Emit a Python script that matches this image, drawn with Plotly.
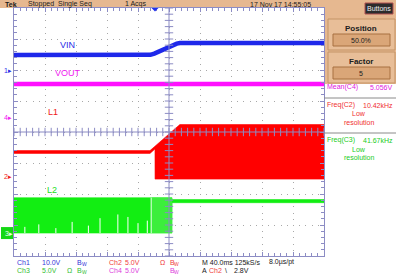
import numpy as np
import plotly.graph_objects as go

# ---------------- values ----------------
# time axis: 40 ms/div, 10 divisions, trigger at centre
time_per_div = 40.0
# channel settings: V/div and ground-marker position (divisions from centre)
ch_scale = {"1": 10.0, "2": 5.0, "3": 5.0, "4": 5.0}
ch_pos = {"1": 2.0, "2": -1.45, "3": -3.26, "4": 0.48}

# VIN (Ch1)
vin_t = [-200, -28, -24, -19, -14, -8, -2, 4, 10, 14, 200]
vin_v = [4.8, 4.8, 4.9, 5.3, 5.9, 6.6, 7.3, 8.0, 8.5, 8.7, 8.7]

# VOUT (Ch4)
vout_t = [-200, 200]
vout_v = [5.35, 5.35]

# L1 switching node (Ch2) envelope
l1_t = [-200, -24.5, -18.1, -18.0, 14.0, 200]
l1_hi = [4.25, 4.25, 4.95, 4.95, 8.45, 8.45]
l1_lo = [3.80, 3.80, 4.50, -0.35, -0.35, -0.35]

# L2 (Ch3) envelope
l2_t = [-200, 3.9, 4.0, 200]
l2_hi = [5.7, 5.7, 5.4, 5.4]
l2_lo = [0.0, 0.0, 4.9, 4.9]
l2_light_t = [-22.0, 3.9]
# sparse white gaps inside the L2 band
l2_gap_t = [-186, -168, -146, -125, -104, -89, -66, -53, -40, -28, -23]
l2_gap_v = [1.0, 1.4, 0.8, 1.8, 1.2, 2.4, 3.0, 2.6, 1.6, 2.0, 5.7]

trace_labels = [("VIN", "1", 67, 45), ("VOUT", "4", 68, 73), ("L1", "2", 53, 112), ("L2", "3", 52, 190)]

meas_rows = [("Mean(C4)", "5.056V", "#E020E0", False),
             ("Freq(C2)", "10.42kHz", "#F03030", True),
             ("Freq(C3)", "41.67kHz", "#22CC22", True)]

status_texts = [("Tek", 3), ("Stopped  Single Seq", 26), ("1 Acqs", 123), ("17 Nov 17 14:55:05", 248)]

readout_row1 = [("Ch1", 15, "1"), ("10.0V", 40, "1"), ("BW", 75, "1"), ("Ch2", 107, "2"),
                ("5.0V", 123, "2"), ("Ω", 158, "2"), ("BW", 168, "2"),
                ("M 40.0ms 125kS/s", 200, "k"), ("8.0µs/pt", 267, "k")]
readout_row2 = [("Ch3", 15, "3"), ("5.0V", 40, "3"), ("Ω", 65, "3"), ("BW", 75, "3"),
                ("Ch4", 107, "4"), ("5.0V", 123, "4"), ("BW", 168, "4"),
                ("A", 200, "k"), ("Ch2", 207, "2"), ("\\", 223, "k"), ("2.8V", 232, "k")]

# ---------------- styling ----------------
W, H = 396, 280
L, R, T, B = 14, 72, 8, 24
PW, PH = W - L - R, H - T - B
FONT = "Liberation Sans"
trace_col = {"1": "#1E28EA", "2": "#FF0000", "3": "#12EE12", "4": "#FF10FF"}
label_col = {"1": "#2A2AE8", "2": "#F01818", "3": "#22DD22", "4": "#F020F0"}
read_col = {"1": "#3434D8", "2": "#F03C3C", "3": "#34BE34", "4": "#DC3CDC", "k": "#202020"}
frame_col = "#8C8CC4"
peach = "#E6B890"


def px2x(px):
    return (px - L) / PW


def py2y(py):
    return (H - B - py) / PH


def div(ch, v):
    return [ch_pos[ch] + x / ch_scale[ch] for x in v]


fig = go.Figure()

# L2 band
fig.add_trace(go.Scatter(x=l2_t + l2_t[::-1], y=div("3", l2_hi + l2_lo[::-1]), fill="toself",
                         fillcolor=trace_col["3"], line=dict(width=0.6, color=trace_col["3"]),
                         mode="lines", hoverinfo="skip"))
lt = l2_light_t
fig.add_trace(go.Scatter(x=lt + lt[::-1], y=div("3", [l2_hi[0], l2_hi[0], l2_lo[0], l2_lo[0]]),
                         fill="toself", fillcolor="#3CEE3C", line=dict(width=0), mode="lines",
                         hoverinfo="skip"))
gx, gy = [], []
for t, v in zip(l2_gap_t, l2_gap_v):
    gx += [t, t, None]
    gy += div("3", [0, v]) + [None]
fig.add_trace(go.Scatter(x=gx, y=gy, mode="lines", line=dict(color="white", width=1), hoverinfo="skip"))

# L1 band
fig.add_trace(go.Scatter(x=l1_t + l1_t[::-1], y=div("2", l1_hi + l1_lo[::-1]), fill="toself",
                         fillcolor=trace_col["2"], line=dict(width=0.6, color=trace_col["2"]),
                         mode="lines", hoverinfo="skip"))
# VOUT, VIN
fig.add_trace(go.Scatter(x=vout_t, y=div("4", vout_v), mode="lines",
                         line=dict(color=trace_col["4"], width=4.5), hoverinfo="skip"))
fig.add_trace(go.Scatter(x=vin_t, y=div("1", vin_v), mode="lines",
                         line=dict(color=trace_col["1"], width=4.5), hoverinfo="skip"))

# centre crosshair with ticks (on top of traces)
fig.add_trace(go.Scatter(x=[-200, 200, None, 0, 0], y=[0, 0, None, -4, 4], mode="lines",
                         line=dict(color=frame_col, width=1), hoverinfo="skip"))
minor_x = np.arange(-200, 201, time_per_div / 5)
minor_y = np.arange(-4, 4.01, 0.2)
fig.add_trace(go.Scatter(x=minor_x, y=np.zeros_like(minor_x), mode="markers",
                         marker=dict(symbol="line-ns", size=6, line=dict(color=frame_col, width=1)),
                         hoverinfo="skip"))
fig.add_trace(go.Scatter(x=np.zeros_like(minor_y), y=minor_y, mode="markers",
                         marker=dict(symbol="line-ew", size=6, line=dict(color=frame_col, width=1)),
                         hoverinfo="skip"))

axis_common = dict(showticklabels=False, showline=True, linecolor=frame_col, linewidth=1,
                   mirror="allticks", ticks="inside", tickcolor=frame_col, ticklen=4,
                   showgrid=True, gridcolor="#A8A8A8", gridwidth=1, griddash="1px,5.2px",
                   zeroline=False, fixedrange=True)
fig.update_xaxes(range=[-200, 200], dtick=time_per_div, tick0=0,
                 minor=dict(dtick=time_per_div / 5, ticks="inside", ticklen=3, tickcolor=frame_col,
                            showgrid=False), **axis_common)
fig.update_yaxes(range=[-4, 4], dtick=1, tick0=0,
                 minor=dict(dtick=0.2, ticks="inside", ticklen=3, tickcolor=frame_col, showgrid=False),
                 **axis_common)

shapes = []
ann = []


def rect(x0, y0, x1, y1, fill, line=None, lw=0, layer="above"):
    shapes.append(dict(type="rect", xref="paper", yref="paper", x0=px2x(x0), x1=px2x(x1),
                       y0=py2y(y1), y1=py2y(y0), fillcolor=fill,
                       line=dict(color=line or fill, width=lw), layer=layer))


def text(s, x, y, color="#202020", size=7, anchor="left", bold=False):
    if bold:
        s = "<b>" + s + "</b>"
    ann.append(dict(text=s, xref="paper", yref="paper", x=px2x(x), y=py2y(y), xanchor=anchor,
                    yanchor="middle", showarrow=False, font=dict(family=FONT, size=size, color=color)))


# top status bar and right panel
rect(0, 0, W, 8, peach, layer="below")
rect(324, 0, W, 84, peach, layer="below")
for s, x in status_texts:
    text(s, x, 4, "#1A1A1A", 7, bold=(s == "Tek"))
rect(365, 3, 393, 14, "#2C2C2C", "#B05050", 1)
text("Buttons", 379, 8.5, "#F0F0F0", 7, "center")
for y0, title, val in [(19, "Position", "50.0%"), (52, "Factor", "5")]:
    rect(328, y0, 395, y0 + 31, "#E8BE98", "#C49466", 1)
    text(title, 361, y0 + 9, "#202020", 8, "center", bold=True)
    rect(333, y0 + 15, 390, y0 + 27, "#DAA678", "#A87040", 1)
    text(val, 361, y0 + 21, "#202020", 7, "center")

# measurements
meas_y = [87, 105, 140]
for (name, val, col, low), y in zip(meas_rows, meas_y):
    text(name, 325, y, col, 7)
    text(val, 395, y, col, 7, "right")
    if low:
        text("Low", 359, y + 9, col, 7, "center")
        text("resolution", 359, y + 17.5, col, 7, "center")
for y in [98, 133]:
    shapes.append(dict(type="line", xref="paper", yref="paper", x0=px2x(324), x1=px2x(W),
                       y0=py2y(y), y1=py2y(y), line=dict(color="#8A8A8A", width=1)))

# channel ground markers
for ch in ["1", "4", "2"]:
    ann.append(dict(text=ch + "▸", xref="paper", yref="y", x=px2x(2), y=ch_pos[ch], xanchor="left",
                    yanchor="middle", showarrow=False, font=dict(family=FONT, size=7, color=label_col[ch])))
y3 = 8 + (4 - ch_pos["3"]) * PH / 8
rect(1, y3 - 6, 13, y3 + 6, "#14D814")
ann.append(dict(text="3▸", xref="paper", yref="y", x=px2x(2.5), y=ch_pos["3"], xanchor="left",
                yanchor="middle", showarrow=False, font=dict(family=FONT, size=7, color="#E8FFE8")))

# trigger position marker at top
shapes.append(dict(type="path", xref="paper", yref="paper",
                   path="M %f,%f L %f,%f L %f,%f Z" % (px2x(151.5), py2y(8), px2x(158.5), py2y(8),
                                                       px2x(155), py2y(11.5)),
                   fillcolor="#2030F0", line=dict(width=0)))

# trace labels
for s, ch, x, y in trace_labels:
    text(s, x, y, label_col[ch], 9, "center")

# bottom readouts (bandwidth-limit symbol drawn as B with a small lowered W)
for row, y in [(readout_row1, 262), (readout_row2, 270)]:
    for s, x, c in row:
        if s == "BW":
            text("B", x, y, read_col[c], 7)
            text("W", x + 4.5, y + 1.5, read_col[c], 5)
        else:
            text(s, x, y, read_col[c], 7)

fig.update_layout(width=W, height=H, margin=dict(l=L, r=R, t=T, b=B, pad=0),
                  paper_bgcolor="white", plot_bgcolor="white", showlegend=False,
                  shapes=shapes, annotations=ann, font=dict(family=FONT))
fig.write_html("out.html", config={"displayModeBar": False})
